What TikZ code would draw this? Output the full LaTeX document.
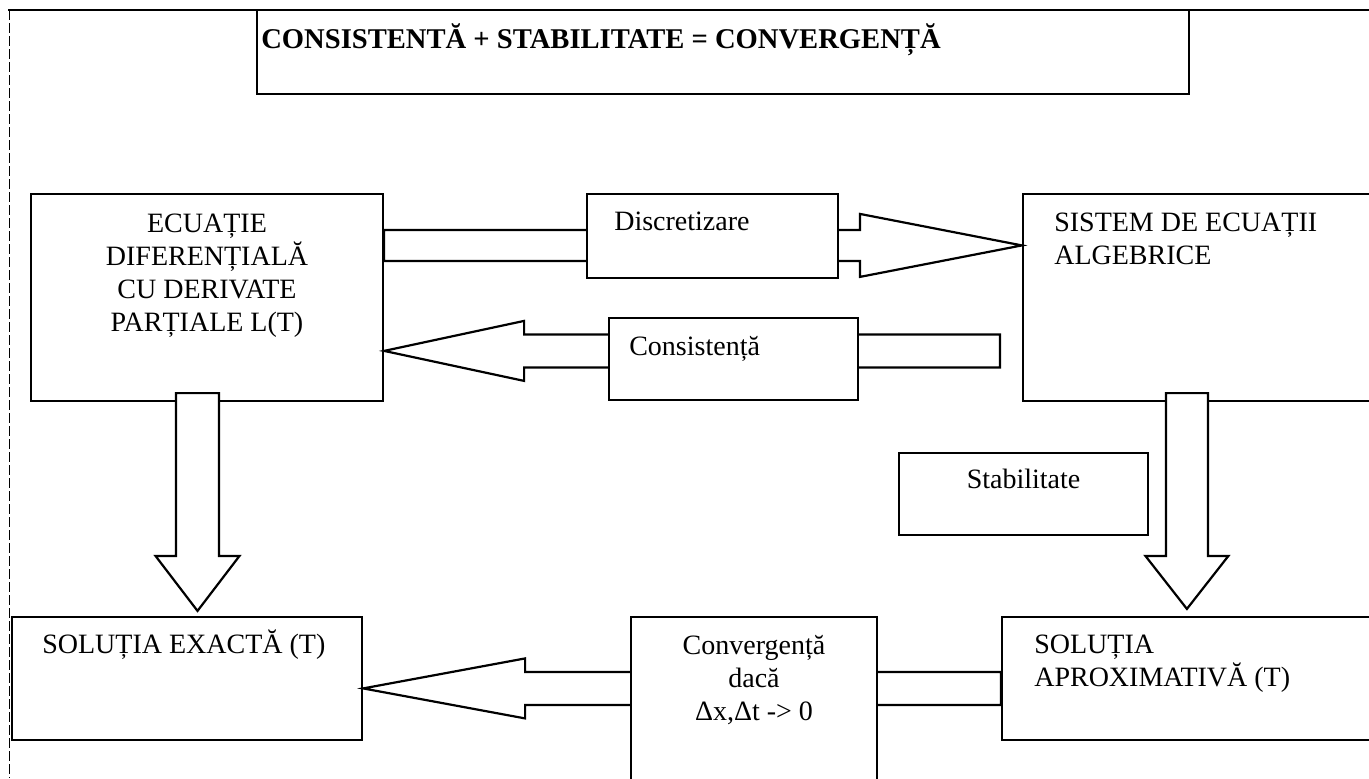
\documentclass[tikz,border=0pt]{standalone}
\usepackage{fontspec}
\setmainfont{Liberation Serif}
\usetikzlibrary{calc,fit}

\newcommand{\fs}{\fontsize{14}{16.5}\selectfont}
\tikzset{
	box/.style={draw,line width=1.1pt,fill=white,inner sep=0pt},
	blockline/.style={draw,line width=1.1pt,fill=white},
	txt/.style={inner sep=0pt,font=\fs},
	bold/.style={inner sep=0pt,font=\fontsize{14.3}{16.5}\selectfont\bfseries},
}
% #1 tail, #2 tip, #3 direction (1 right, -1 left), #4 shaft, #5 head, #6 head length
\newcommand{\harrow}[6]{%
	\draw[blockline] ($(#1)+(0,-#4)$) -- ($(#2)+({-(#3)*(#6)},-#4)$) -- ($(#2)+({-(#3)*(#6)},-#5)$) -- (#2)
		-- ($(#2)+({-(#3)*(#6)},#5)$) -- ($(#2)+({-(#3)*(#6)},#4)$) -- ($(#1)+(0,#4)$) -- cycle;}
% #1 tail, #2 tip, #3 shaft, #4 head, #5 head length
\newcommand{\varrow}[5]{%
	\draw[blockline] ($(#1)+(-#3,0)$) -- ($(#2)+(-#3,-#5)$) -- ($(#2)+(-#4,-#5)$) -- (#2)
		-- ($(#2)+(#4,-#5)$) -- ($(#2)+(#3,-#5)$) -- ($(#1)+(#3,0)$) -- cycle;}

\begin{document}
\begin{tikzpicture}[x=0.5pt,y=-0.5pt]
		\useasboundingbox (0,0) rectangle (1369,778);
		\clip (0,0) rectangle (1369,778);
		%frame
		\draw[line width=1.4pt] (8,10) -- (1369,10);
		\draw[line width=0.5pt,dash pattern=on 5pt off 1.5pt] (9,10) -- (9,778);
		%title
		\node[box,fit={(257,10) (1189,94)}] (title) {};
		\node[bold,anchor=base west] (titlet) at ($(title.north west)+(5,40)$) {CONSISTENTĂ + STABILITATE = CONVERGENȚĂ};
		%big boxes (multi-line texts are set by their last line)
		\node[box,fit={(31,194) (383,401)}] (pde) {};
		\node[txt,align=center,anchor=base] (pdet) at ($(pde.north)+(0,139)$) {ECUAȚIE\\DIFERENȚIALĂ\\CU DERIVATE\\PARȚIALE L(T)};
		\node[box,fit={(1023,194) (1390,401)}] (alg) {};
		\node[txt,align=left,anchor=base west] (algt) at ($(alg.north west)+(32,72)$) {SISTEM DE ECUAȚII\\ALGEBRICE};
		\node[box,fit={(12,617) (362,740)}] (exact) {};
		\node[txt,anchor=base west] (exactt) at ($(exact.north west)+(31,38)$) {SOLUȚIA EXACTĂ (T)};
		\node[box,fit={(1002,617) (1390,740)}] (approx) {};
		\node[txt,align=left,anchor=base west] (approxt) at ($(approx.north west)+(33,71)$) {SOLUȚIA\\APROXIMATIVĂ (T)};
		\node[box,fit={(899,453) (1148,535)}] (stab) {};
		\node[txt,anchor=base] (stabt) at ($(stab.north)+(0,37)$) {Stabilitate};
		%arrows
		\coordinate (dt) at ($(pde.north east)+(0,52.5)$);
		\coordinate (dh) at (alg.west |- dt);
		\harrow{dt}{dh}{1}{15.5}{31.5}{162}
		\coordinate (ct) at ($(alg.north west)+(-22,158)$);
		\coordinate (ch) at (pde.east |- ct);
		\harrow{ct}{ch}{-1}{16.5}{30}{140}
		\coordinate (vt) at ($(approx.north west)+(0,72.5)$);
		\coordinate (vh) at (exact.east |- vt);
		\harrow{vt}{vh}{-1}{16.5}{30}{162}
		\coordinate (lt) at ($(pde.south)+(-9.5,-9)$);
		\coordinate (lh) at ($(lt |- exact.north)+(0,-5)$);
		\varrow{lt}{lh}{21.5}{42}{55}
		\coordinate (rt) at ($(alg.south west)+(165,-9)$);
		\coordinate (rh) at ($(rt |- approx.north)+(0,-7)$);
		\varrow{rt}{rh}{21}{41.5}{53}
		%labels on arrows
		\node[box,fit={(587,194) (838,278)}] (disc) {};
		\node[txt,anchor=base west] (disct) at ($(disc.north west)+(28,38)$) {Discretizare};
		\node[box,fit={(609,318) (858,400)}] (cons) {};
		\node[txt,anchor=base west] (const) at ($(cons.north west)+(21,39)$) {Consistență};
		\node[box,fit={(631,617) (877,800)}] (conv) {};
		\node[txt,align=center,anchor=base] (convt) at ($(conv.north)+(0,105)$) {Convergență\\dacă\\Δx,Δt -> 0};
	\end{tikzpicture}
\end{document}
